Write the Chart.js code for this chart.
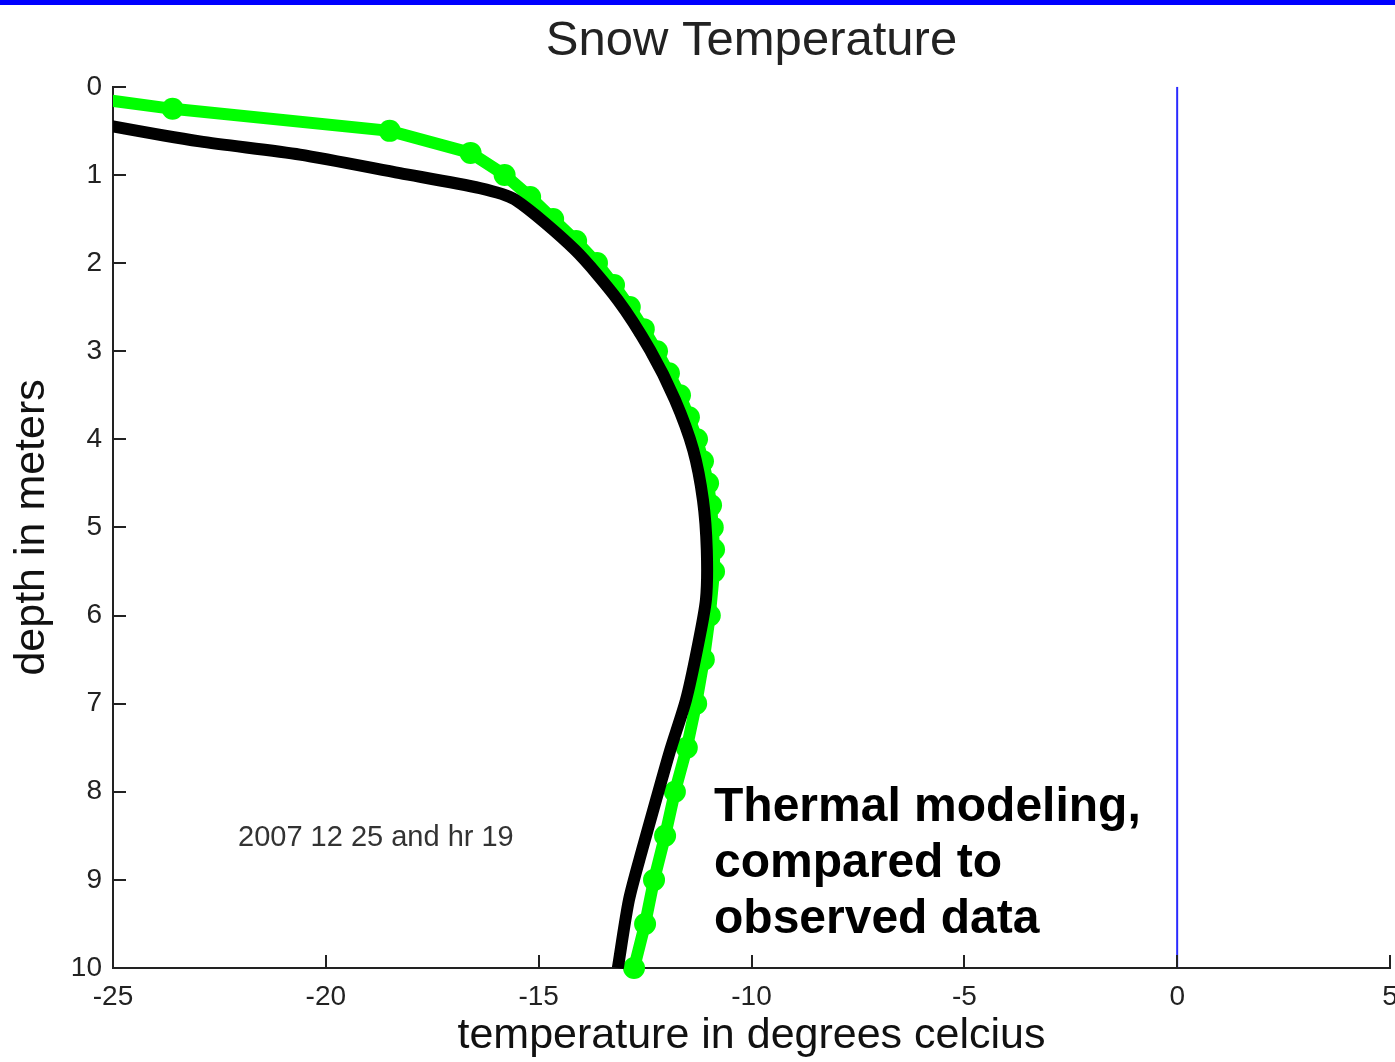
<!DOCTYPE html>
<html>
<head>
<meta charset="utf-8">
<script src="https://cdn.jsdelivr.net/npm/chart.js@4/dist/chart.umd.min.js"></script>
<style>
  html, body { margin: 0; padding: 0; background: #ffffff; overflow: hidden; }
  #wrap { width: 1395px; height: 1062px; position: relative; overflow: hidden; }
  #c { display: block; }
</style>
</head>
<body>
<div id="wrap"><canvas id="c" width="1401" height="1062"></canvas></div>
<script>
// ---- data ----
const xTicks = [-25, -20, -15, -10, -5, 0, 5];
const yTicks = [0, 1, 2, 3, 4, 5, 6, 7, 8, 9, 10];

// observed (green, with markers)
const obsDepth = [0, 0.25, 0.5, 0.75, 1.0, 1.25, 1.5, 1.75, 2.0, 2.25, 2.5, 2.75, 3.0, 3.25, 3.5, 3.75, 4.0, 4.25, 4.5, 4.75, 5.0, 5.25, 5.5, 6.0, 6.5, 7.0, 7.5, 8.0, 8.5, 9.0, 9.5, 10.0];
const obsTemp  = [-27.5, -23.6, -18.5, -16.6, -15.8, -15.2, -14.66, -14.12, -13.63, -13.23, -12.86, -12.53, -12.22, -11.94, -11.68, -11.47, -11.28, -11.14, -11.02, -10.95, -10.91, -10.88, -10.88, -10.98, -11.12, -11.30, -11.52, -11.80, -12.03, -12.29, -12.50, -12.76];

// model (black line)
const modDepth = [0.2, 0.45, 0.62, 0.77, 0.98, 1.15, 1.28, 1.85, 2.42, 2.99, 3.55, 4.12, 4.69, 5.26, 5.82, 6.39, 6.96, 7.53, 8.09, 8.66, 9.23, 10.0];
const modTemp  = [-27.7, -25.0, -22.96, -20.61, -18.26, -16.38, -15.56, -14.15, -13.14, -12.38, -11.80, -11.37, -11.14, -11.05, -11.07, -11.28, -11.54, -11.91, -12.24, -12.57, -12.88, -13.14];

// melting point reference line (blue)
const zeroTemp  = [0, 0];
const zeroDepth = [0, 10];

const titleText = 'Snow Temperature';
const xTitle = 'temperature in degrees celcius';
const yTitle = 'depth in meters';
const stampText = '2007 12 25 and hr 19';
const noteLines = ['Thermal modeling,', 'compared to', 'observed data'];

// ---- build chart ----
const pts = (xs, ys) => xs.map((x, i) => ({ x: x, y: ys[i] }));
const FONT = "'Liberation Sans', Arial, Helvetica, sans-serif";

const decor = {
  id: 'decor',
  beforeDraw(chart) {
    const ctx = chart.ctx;
    ctx.save();
    ctx.fillStyle = '#0000ff';
    ctx.fillRect(0, 0, chart.width, 5);
    ctx.restore();
  },
  afterDatasetsDraw(chart) {
    const ctx = chart.ctx;
    const xs = chart.scales.x, ys = chart.scales.y;
    const a = chart.chartArea;
    ctx.save();
    ctx.strokeStyle = '#222';
    ctx.lineWidth = 2;
    ctx.beginPath();
    xTicks.forEach(v => {
      const px = Math.round(xs.getPixelForValue(v));
      ctx.moveTo(px, a.bottom);
      ctx.lineTo(px, a.bottom - 13);
    });
    yTicks.forEach(v => {
      const py = Math.round(ys.getPixelForValue(v));
      ctx.moveTo(a.left, py);
      ctx.lineTo(a.left + 13, py);
    });
    ctx.stroke();
    ctx.restore();
  },
  afterDraw(chart) {
    const ctx = chart.ctx;
    const a = chart.chartArea;
    ctx.save();
    ctx.fillStyle = '#333';
    ctx.font = "29px " + FONT;
    ctx.textBaseline = 'alphabetic';
    ctx.textAlign = 'left';
    ctx.fillText(stampText, a.left + 125, 846);
    ctx.fillStyle = '#000';
    ctx.font = "bold 48px " + FONT;
    noteLines.forEach((t, i) => ctx.fillText(t, a.left + 601, 821 + i * 56));
    ctx.restore();
  }
};

new Chart(document.getElementById('c'), {
  type: 'scatter',
  data: {
    datasets: [
      {
        label: 'model',
        data: pts(modTemp, modDepth),
        showLine: true,
        borderColor: '#000000',
        backgroundColor: '#000000',
        borderWidth: 12,
        pointRadius: 0,
        tension: 0.25,
        clip: { left: 0, top: 0, right: 0, bottom: 8 }
      },
      {
        label: 'observed',
        data: pts(obsTemp, obsDepth),
        showLine: true,
        borderColor: '#00ff00',
        backgroundColor: '#00ff00',
        borderWidth: 12,
        pointRadius: 11,
        pointBorderWidth: 0,
        tension: 0,
        clip: { left: 0, top: 0, right: 0, bottom: 14 }
      },
      {
        label: 'zero',
        data: pts(zeroTemp, zeroDepth),
        showLine: true,
        borderColor: '#2a2aff',
        borderWidth: 2,
        pointRadius: 0
      }
    ]
  },
  options: {
    responsive: false,
    animation: false,
    devicePixelRatio: 1,
    layout: { padding: { left: 0, right: 0, top: 0, bottom: 0 } },
    plugins: {
      legend: { display: false },
      tooltip: { enabled: false },
      title: {
        display: true,
        text: titleText,
        fullSize: false,
        color: '#222',
        font: { family: FONT, size: 49, weight: 'normal' },
        padding: { top: 12, bottom: 16 }
      }
    },
    scales: {
      x: {
        type: 'linear',
        min: -25, max: 5,
        afterBuildTicks: s => { s.ticks = xTicks.map(v => ({ value: v })); },
        afterFit: s => { s.height = 94; s.paddingLeft = 0; s.paddingRight = 0; },
        grid: { display: false, drawTicks: false },
        border: { display: true, color: '#222', width: 2 },
        ticks: { color: '#222', padding: 12, font: { family: FONT, size: 28 }, maxRotation: 0 },
        title: { display: true, text: xTitle, color: '#111', font: { family: FONT, size: 43 }, padding: { top: 0, bottom: 0 } }
      },
      y: {
        type: 'linear',
        reverse: true,
        min: 0, max: 10,
        afterBuildTicks: s => { s.ticks = yTicks.map(v => ({ value: v })); },
        afterFit: s => { s.width = 113; },
        grid: { display: false, drawTicks: false },
        border: { display: true, color: '#222', width: 2 },
        ticks: { color: '#222', padding: 11, font: { family: FONT, size: 28 } },
        title: { display: true, text: yTitle, color: '#111', font: { family: FONT, size: 43 }, padding: { top: 6, bottom: 0 } }
      }
    }
  },
  plugins: [decor]
});
</script>
</body>
</html>
